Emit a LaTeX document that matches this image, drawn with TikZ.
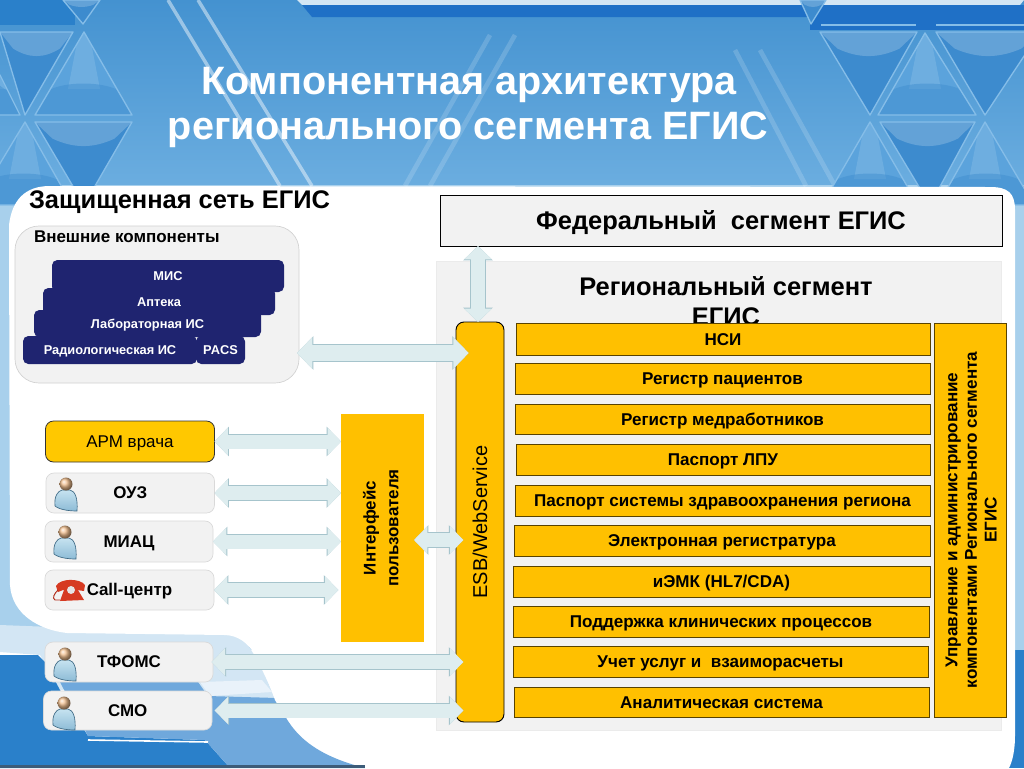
\documentclass[tikz,border=0pt]{standalone}
\usepackage{fontspec}
\setmainfont{Liberation Sans}
\usetikzlibrary{arrows.meta}
\definecolor{navy}{HTML}{1F2470}
\definecolor{amber}{HTML}{FFC000}
\definecolor{armyellow}{HTML}{FFC800}
\definecolor{panelgray}{HTML}{F2F2F2}
\definecolor{arrfill}{HTML}{DEEDEF}
\definecolor{arredge}{HTML}{A6C4CC}
\definecolor{bgtop}{HTML}{4492D0}
\definecolor{bgbot}{HTML}{6CAEE0}
\definecolor{deepblue}{HTML}{2A80CA}
\definecolor{bandblue}{HTML}{1F70C6}
\definecolor{midblue}{HTML}{6FA8DC}
\definecolor{paleblue}{HTML}{D3E6F4}
\definecolor{edgepale}{HTML}{A8D0EC}
\definecolor{triedge}{HTML}{85BDE8}
\definecolor{tridown}{HTML}{3D8BCE}
\definecolor{triupper}{HTML}{5BA3DC}
\definecolor{bodytop}{HTML}{C6E3F0}
\definecolor{bodybot}{HTML}{8DBBD6}
\definecolor{bodyedge}{HTML}{3F6A85}
\definecolor{skin}{HTML}{F2C090}
\definecolor{phonered}{HTML}{D63A22}
\definecolor{phonedark}{HTML}{B02A18}
\tikzset{
  x=0.75pt,y=-0.75pt,
  every node/.style={inner sep=0pt,outer sep=0pt,align=center,text=black},
  darkbox/.style={fill=navy,rounded corners=4pt,text=white,text height=6.9pt,text depth=0pt,font=\bfseries\fontsize{9.6}{11}\selectfont},
  graybox/.style={fill=panelgray,draw=black!15,line width=.5pt,rounded corners=6pt,text height=8.9pt,text depth=0pt,font=\bfseries\fontsize{12.7}{15}\selectfont},
  rowplain/.style={fill=amber,draw=black!65!amber,line width=.6pt,font=\bfseries\fontsize{12.8}{14.7}\selectfont},
  rowbox/.style={rowplain,text height=9.2pt,text depth=0pt},
  biarrow/.style={line width=10.5pt,draw=arrfill,
     {Triangle[width=20pt,length=10pt]}-{Triangle[width=20pt,length=10pt]},
     preaction={draw=arredge,line width=11.5pt,
     {Triangle[width=21.5pt,length=10.8pt]}-{Triangle[width=21.5pt,length=10.8pt]}}},
  bigbiarrow/.style={line width=12pt,draw=arrfill,
     {Triangle[width=23pt,length=11.5pt]}-{Triangle[width=23pt,length=11.5pt]},
     preaction={draw=arredge,line width=13pt,
     {Triangle[width=24.5pt,length=12.3pt]}-{Triangle[width=24.5pt,length=12.3pt]}}},
  trishape/.style={draw=triedge,line width=1pt,line join=round},
}
\newcommand\bx[7][]{\node[#2,minimum width={(#5-#3)*0.75pt},minimum height={(#6-#4)*0.75pt},#1] (#7) at ({(#3+#5)/2},{(#4+#6)/2})}
% down triangle: left x, right x, apex x, top y, apex y
\newcommand\tridn[5]{%
  \begin{scope}
   \clip (#1,#4) -- (#2,#4) -- (#3,#5) -- cycle;
   \fill[tridown] (#1,#4) rectangle (#2,#5);
   \fill[white,opacity=.2] (#1,#4) -- (#2,#4) -- ({#1+.82*(#2-#1)},{#4+.2*(#5-#4)}) .. controls ({#1+.6*(#2-#1)},{#4+.32*(#5-#4)}) and ({#1+.4*(#2-#1)},{#4+.32*(#5-#4)}) .. ({#1+.18*(#2-#1)},{#4+.2*(#5-#4)}) -- cycle;
  \end{scope}
  \draw[trishape] (#1,#4) -- (#2,#4) -- (#3,#5) -- cycle;}
% up triangle: left x, right x, apex x, base y, apex y
\newcommand\triup[5]{%
  \begin{scope}
   \clip (#1,#4) -- (#2,#4) -- (#3,#5) -- cycle;
   \fill[triupper] (#1,#4) rectangle (#2,#5);
   \fill[white,opacity=.12] ({#3-5},#5) -- ({#3+5},#5) -- ({#3+16},{#4-26}) -- ({#3-16},{#4-26}) -- cycle;
   \fill[tridown,opacity=.45] (#1,#4) -- ({#1+12},{#4-24}) .. controls ({#1+30},{#4-34}) and ({#2-30},{#4-34}) .. ({#2-12},{#4-24}) -- (#2,#4) -- cycle;
  \end{scope}
  \draw[trishape] (#1,#4) -- (#2,#4) -- (#3,#5) -- cycle;}
\newcommand\person[2]{%
 \begin{scope}[shift={(#1,#2)}]
  \path[draw=bodyedge,line width=.5pt,top color=bodytop,bottom color=bodybot] (-11,22) .. controls (-12,12) and (-8,7) .. (-4,6) -- (4,6) .. controls (9,7) and (12,14) .. (11,27) .. controls (4,27) and (-6,26) .. (-11,22) -- cycle;
  \shade[ball color=skin] (0,0) circle (6.5);
 \end{scope}}
\begin{document}
\begin{tikzpicture}
\useasboundingbox (0,0) rectangle (1024,768);
% background
\shade[top color=bgtop,bottom color=bgbot] (0,0) rectangle (1024,190);
\fill[edgepale] (0,185) rectangle (1024,650);
% diagonal streaks
\foreach \a/\b/\c/\d in {168/0/280/186,198/0/312/186}
  \draw[white,opacity=.45,line width=2.6pt] (\a,\b) -- (\c,\d);
\foreach \a/\b/\c/\d in {490/35/405/186,515/35/430/186,735/50/806/186,760/50/835/186}
  \draw[white,opacity=.16,line width=3.5pt] (\a,\b) -- (\c,\d);
% top band
\fill[paleblue] (297,0) -- (1024,0) -- (1020,5) -- (302,5) -- cycle;
\fill[bandblue] (302,5) -- (1024,5) -- (1024,17) -- (312,17) -- cycle;
\fill[bandblue] (810,17) rectangle (1024,30);
% triangles left
\fill[deepblue] (0,0) rectangle (75,25);
\tridn{0}{73}{25}{32}{115}
\triup{35}{132}{84}{115}{32}
\triup{-25}{20}{0}{115}{75}
\tridn{35}{132}{84}{122}{205}
\triup{-25}{72}{25}{205}{122}
\tridn{63}{100}{83}{0}{24}
% triangles right
\tridn{820}{917}{870}{32}{115}
\triup{878}{976}{925}{115}{33}
\tridn{936}{1040}{985}{32}{115}
\triup{822}{918}{870}{205}{122}
\tridn{880}{975}{930}{122}{205}
\triup{938}{1034}{985}{205}{122}
\tridn{800}{826}{811}{0}{24}
\draw[triedge,line width=.8pt] (821,25) -- (916,25) (936,25) -- (1024,25);
% bottom-left and bottom-right
\fill[deepblue] (990,650) rectangle (1024,768);
\fill[paleblue] (0,625) -- (235,634) .. controls (250,640) and (262,670) .. (277,702) -- (60,690) -- (40,655) -- (0,652) -- cycle;
\fill[deepblue] (0,655) -- (38,655) -- (45,662) -- (60,690) -- (88,736) -- (205,740) -- (230,768) -- (0,768) -- cycle;
\fill[midblue] (60,682) -- (198,682) -- (208,696) -- (277,698) .. controls (290,735) and (315,755) .. (365,768) -- (230,768) -- (205,740) -- (88,736) -- cycle;
\fill[white!85!midblue] (200,682) -- (262,680) -- (272,692) -- (210,696) -- cycle;
\draw[white,line width=1.2pt] (88,740) -- (208,742);
% white panel
\fill[white] (9,225) .. controls (12,200) and (25,186) .. (50,186)
  -- (990,187) .. controls (1008,187) and (1015,193) .. (1015,210)
  -- (1015,735) .. controls (1015,752) and (1012,762) .. (1009,768)
  -- (368,768) -- (360,765)
  .. controls (320,755) and (295,735) .. (275,700) .. controls (262,665) and (252,636) .. (225,635)
  -- (67,633) .. controls (40,630) and (12,615) .. (10,585) -- cycle;
\fill[black!45!midblue] (0,765) rectangle (365,768);

\node[text=white,font=\bfseries\fontsize{29.7}{36}\selectfont] (title1) at (469,85) {Компонентная архитектура};
\node[text=white,font=\bfseries\fontsize{29.7}{36}\selectfont] (title2) at (468,130) {регионального сегмента ЕГИС};
\node[anchor=base west,font=\bfseries\fontsize{19.1}{22}\selectfont] (zsn) at (29,208) {Защищенная сеть ЕГИС};

% external components
\bx[rounded corners=18pt]{fill=panelgray,draw=black!18,line width=.5pt}{15}{226}{299}{383}{ext} {};
\node[anchor=base west,font=\bfseries\fontsize{12.75}{15}\selectfont] (extt) at (34,242) {Внешние компоненты};
\bx{darkbox}{52}{260}{284}{292}{mis} {МИС};
\bx{darkbox}{43}{288}{275}{315}{apt} {Аптека};
\bx{darkbox}{34}{310}{261}{337}{lab} {Лабораторная ИС};
\bx{darkbox}{23}{336}{197}{364}{rad} {Радиологическая ИС};
\bx{darkbox}{196}{336}{245}{364}{pacs} {PACS};

% segments
\bx{fill=panelgray,draw=black!8,line width=.5pt}{436}{261}{1001}{730}{reg} {};
\bx{fill=panelgray,draw=black,line width=.7pt,text height=13.8pt,text depth=0pt,font=\bfseries\fontsize{19.1}{22}\selectfont}{440}{195}{1002}{246}{fed} {Федеральный\ \ сегмент ЕГИС};
\node[font=\bfseries\fontsize{19.1}{22.5}\selectfont] (regt) at (726,301) {Региональный сегмент\\ЕГИС};

% amber rows
\bx{rowbox}{516}{323}{930}{355}{r1} {НСИ};
\bx{rowbox}{515}{363}{930}{394}{r2} {Регистр пациентов};
\bx{rowbox}{515}{404}{930}{434}{r3} {Регистр медработников};
\bx{rowbox}{516}{444}{930}{475}{r4} {Паспорт ЛПУ};
\bx{rowbox}{515}{485}{930}{516}{r5} {Паспорт системы здравоохранения региона};
\bx{rowbox}{514}{525}{930}{556}{r6} {Электронная регистратура};
\bx{rowbox}{513}{566}{930}{597}{r7} {иЭМК (HL7/CDA)};
\bx{rowbox}{513}{606}{929}{637}{r8} {Поддержка клинических процессов};
\bx{rowbox}{513}{646}{928}{677}{r9} {Учет услуг и\ \ взаиморасчеты};
\bx{rowbox}{514}{687}{929}{717}{r10} {Аналитическая система};
\bx{rowplain}{934}{323}{1006}{717}{adm} {\hspace{4.5pt}\rotatebox{90}{\begin{tabular}{@{}c@{}}Управление и администрирование\\компонентами Регионального сегмента\\ЕГИС\end{tabular}}};

\bx{fill=amber,draw=black,line width=.7pt,rounded corners=6pt,font=\fontsize{15}{17}\selectfont}{456}{322}{504}{722}{esb} {\rotatebox{90}{ESB/WebService}};
\bx{fill=amber,font=\bfseries\fontsize{12.7}{17}\selectfont}{341}{414}{424}{642}{ui} {\rotatebox{90}{\begin{tabular}{@{}c@{}}Интерфейс\\пользователя\end{tabular}}};

% client boxes
\bx{fill=armyellow,draw=black!80,line width=.6pt,rounded corners=6pt,text height=8.9pt,text depth=0pt,font=\fontsize{12.75}{15}\selectfont}{45.5}{421}{214.5}{462}{arm} {АРМ врача};
\bx{graybox}{46}{473}{214.5}{513}{ouz} {ОУЗ};
\bx{graybox}{45}{521}{213}{562}{miac} {МИАЦ};
\bx{graybox}{45}{570}{214}{610}{call} {Call-центр};
\bx{graybox}{45}{642}{213}{682}{tf} {ТФОМС};
\bx{graybox}{43.5}{691}{212}{730}{smo} {СМО};
\person{66}{484}\person{65}{532}\person{65}{654}\person{64}{703}

% phone
\fill[phonered] (60,601) -- (64,590) -- (78,590) -- (84,600) -- cycle;
\fill[phonered] (56,586) .. controls (60,578) and (80,578) .. (85,585) -- (84,591) -- (77,590) -- (63,590) -- (58,592) -- cycle;
\fill[white!80!gray] (71,590) circle (4);
\draw[phonedark,line width=.7pt] (58,590) .. controls (54,594) and (52,598) .. (55,600) -- (60,600);

% connectors
\coordinate (extport) at (297,353);
\draw[bigbiarrow,shorten >=-9.5pt] (extport) -- (esb.west |- extport);
\coordinate (fedport) at (478,322);
\draw[biarrow] (fedport) -- (fedport |- fed.south);
\draw[biarrow] (arm.east) -- (ui.west |- arm.east);
\draw[biarrow] (ouz.east) -- (ui.west |- ouz.east);
\draw[biarrow] (miac.east) -- (ui.west |- miac.east);
\draw[biarrow,shorten >=2pt] (call.east) -- (ui.west |- call.east);
\coordinate (uiport) at (414,540);
\draw[biarrow,shorten >=-5.5pt] (uiport) -- (esb.west |- uiport);
\draw[biarrow,shorten <=-1pt,shorten >=-5.5pt] (tf.east) -- (esb.west |- tf.east);
\draw[biarrow,shorten <=2pt,shorten >=-5.5pt] (smo.east) -- (esb.west |- smo.east);
\end{tikzpicture}
\end{document}
